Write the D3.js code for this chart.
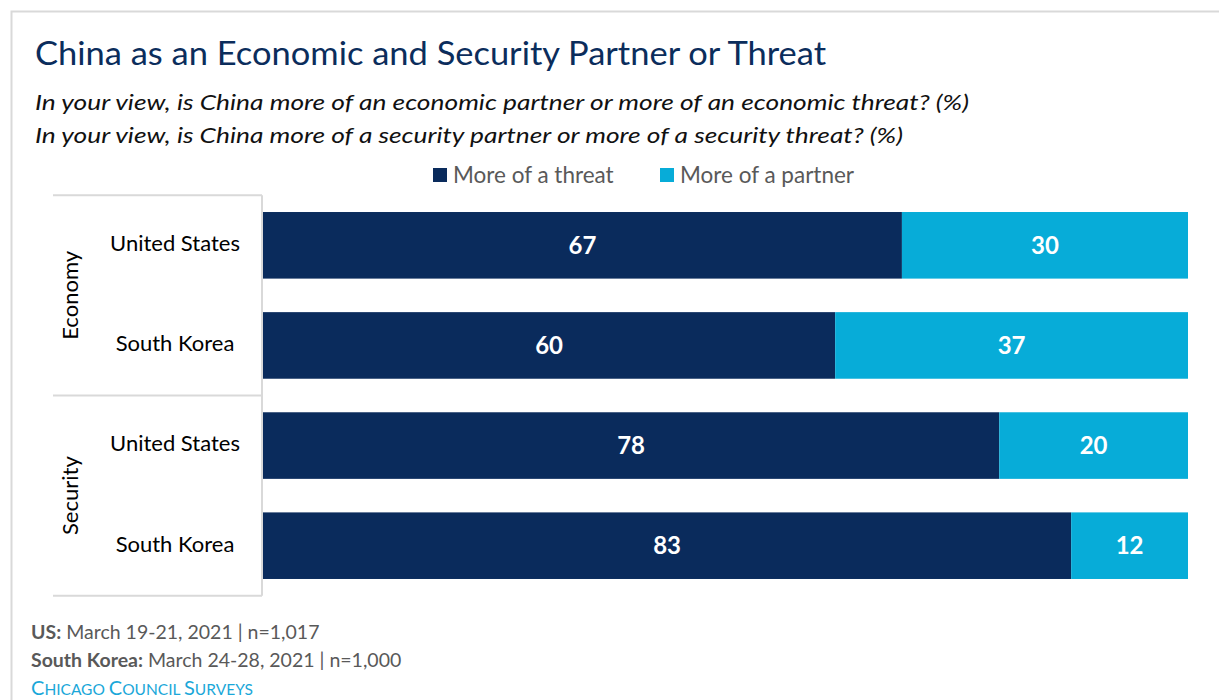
<!DOCTYPE html>
<html>
<head>
<meta charset="utf-8">
<script src="https://cdn.jsdelivr.net/npm/d3@7"></script>
<style>
  body { margin: 0; background: #fff; }
  svg { font-family: Lato, "Open Sans", sans-serif; }
</style>
</head>
<body>
<div id="chart"></div>
<script>
/* China as economic / security partner or threat - stacked bars */

const groups = ["Economy", "Economy", "Security", "Security"];
const countries = ["United States", "South Korea", "United States", "South Korea"];
const threat = [67, 60, 78, 83];
const partner = [30, 37, 20, 12];
const seriesNames = ["More of a threat", "More of a partner"];
const colors = ["#0a2b5c", "#07acd8"];

const width = 1219,
      height = 700,
      margin = ({ top: 212, right: 31, bottom: 121, left: 263 });

const rows = countries.map((c, i) => ({
    id: i,
    group: groups[i],
    country: c,
    threat: threat[i],
    partner: partner[i]
}));

let svg = d3.select("#chart")
    .append("svg")
    .attr("width", width)
    .attr("height", height);

// outer frame
svg.append("rect")
    .attr("x", 11.5).attr("y", 11.5)
    .attr("width", width + 20).attr("height", height + 20)
    .attr("fill", "none")
    .attr("stroke", "#d9d9d9")
    .attr("stroke-width", 2);

// title + questions
svg.append("text")
    .attr("x", 35).attr("y", 65)
    .attr("fill", "#0b2d5c")
    .style("font-size", "32px")
    .attr("textLength", 791)
    .attr("lengthAdjust", "spacingAndGlyphs")
    .text("China as an Economic and Security Partner or Threat");

svg.append("text")
    .attr("x", 35).attr("y", 110)
    .attr("fill", "#111")
    .style("font-size", "22px")
    .style("font-style", "italic")
    .attr("textLength", 934)
    .attr("lengthAdjust", "spacingAndGlyphs")
    .text("In your view, is China more of an economic partner or more of an economic threat? (%)");

svg.append("text")
    .attr("x", 35).attr("y", 143)
    .attr("fill", "#111")
    .style("font-size", "22px")
    .style("font-style", "italic")
    .attr("textLength", 868)
    .attr("lengthAdjust", "spacingAndGlyphs")
    .text("In your view, is China more of a security partner or more of a security threat? (%)");

// legend
let legend = svg.append("g");
const legendX = [433, 660];
seriesNames.forEach((s, i) => {
    legend.append("rect")
        .attr("x", legendX[i]).attr("y", 168)
        .attr("width", 14).attr("height", 14)
        .attr("fill", colors[i]);
    legend.append("text")
        .attr("x", legendX[i] + 20).attr("y", 183)
        .attr("fill", "#595959")
        .style("font-size", "22.5px")
        .text(s);
});

let y = d3.scaleBand()
    .domain(rows.map(d => d.id))
    .range([margin.top - 17, height - margin.bottom + 17])
    .paddingInner(0.335)
    .paddingOuter(0.17);

// each bar is scaled to its own row total
let x = d3.scaleLinear()
    .domain([0, 1])
    .range([margin.left, width - margin.right]);

let stack = d3.stack()
    .keys(["threat", "partner"])
    .offset(d3.stackOffsetExpand);

let layers = svg.selectAll(".layer")
    .data(stack(rows))
    .join("g")
    .attr("class", "layer")
    .attr("fill", (d, i) => colors[i]);

layers.selectAll("rect")
    .data(d => d)
    .join("rect")
    .attr("x", d => x(d[0]))
    .attr("width", d => x(d[1]) - x(d[0]))
    .attr("y", d => y(d.data.id))
    .attr("height", y.bandwidth());

layers.selectAll("text")
    .data(d => d.map(v => ({ v: v, key: d.key })))
    .join("text")
    .attr("x", d => (x(d.v[0]) + x(d.v[1])) / 2)
    .attr("y", d => y(d.v.data.id) + y.bandwidth() / 2)
    .attr("dy", "0.36em")
    .attr("text-anchor", "middle")
    .attr("fill", "white")
    .style("font-size", "24px")
    .style("font-weight", "bold")
    .text(d => d.v.data[d.key]);

// group axis on the left: lines between groups
const step = y.step();
const groupNames = Array.from(new Set(groups));
let axisG = svg.append("g").attr("stroke", "#d9d9d9").attr("stroke-width", 2);
const yTop = y(0) - (step - y.bandwidth()) / 2;
[0, 2, 4].forEach(k => {
    axisG.append("line")
        .attr("x1", 53).attr("x2", margin.left - 1)
        .attr("y1", yTop + k * step).attr("y2", yTop + k * step);
});
axisG.append("line")
    .attr("x1", margin.left - 1).attr("x2", margin.left - 1)
    .attr("y1", yTop).attr("y2", yTop + 4 * step);

svg.selectAll(".country")
    .data(rows)
    .join("text")
    .attr("class", "country")
    .attr("x", 175)
    .attr("y", d => y(d.id) + y.bandwidth() / 2 - 2)
    .attr("dy", "0.36em")
    .attr("text-anchor", "middle")
    .style("font-size", "22px")
    .text(d => d.country);

groupNames.forEach((g, k) => {
    const cy = yTop + (2 * k + 1) * step;
    svg.append("text")
        .attr("transform", `translate(78,${cy}) rotate(-90)`)
        .attr("text-anchor", "middle")
        .style("font-size", "22px")
        .text(g);
});

// footer notes
let foot = svg.append("g").attr("fill", "#595959").style("font-size", "19.5px");
let f1 = foot.append("text").attr("x", 31).attr("y", 639);
f1.append("tspan").style("font-weight", "bold").text("US:");
f1.append("tspan").text(" March 19-21, 2021 | n=1,017");
let f2 = foot.append("text").attr("x", 31).attr("y", 667);
f2.append("tspan").style("font-weight", "bold").text("South Korea:");
f2.append("tspan").text(" March 24-28, 2021 | n=1,000");

let f3 = svg.append("text").attr("x", 31).attr("y", 695).attr("fill", "#1aa7d9");
f3.append("tspan").style("font-size", "20px").text("C");
f3.append("tspan").style("font-size", "15.5px").text("HICAGO ");
f3.append("tspan").style("font-size", "20px").text("C");
f3.append("tspan").style("font-size", "15.5px").text("OUNCIL ");
f3.append("tspan").style("font-size", "20px").text("S");
f3.append("tspan").style("font-size", "15.5px").text("URVEYS");
</script>
</body>
</html>
